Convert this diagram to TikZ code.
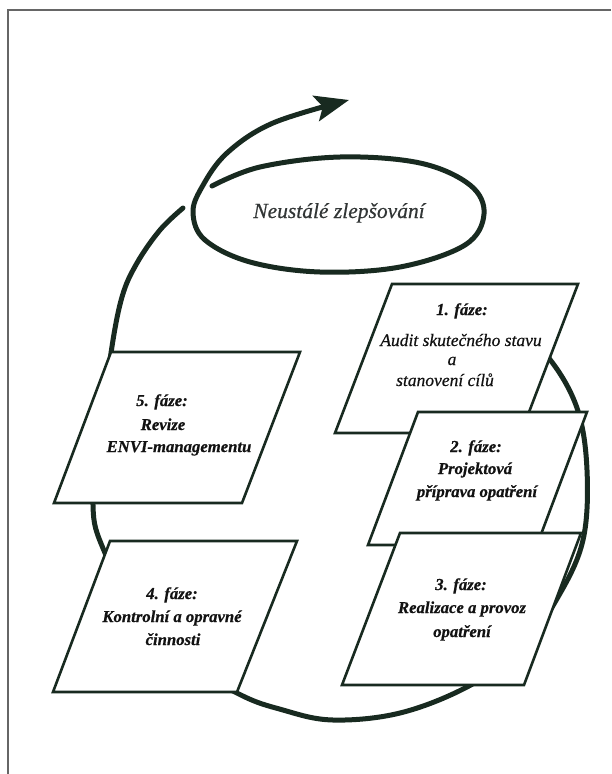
\documentclass[tikz,border=0pt]{standalone}
\usepackage{fontspec}
\setmainfont{Liberation Serif}[
  BoldFont={Liberation Serif Bold},
  ItalicFont={Liberation Serif Italic},
  BoldItalicFont={Liberation Serif Bold Italic}]
\newfontfamily\heavyit{Liberation Serif Bold Italic}[FakeBold=0.6]
\newfontfamily\medit{Liberation Serif Italic}[FakeBold=0.5]
\usetikzlibrary{arrows.meta}
\definecolor{ink}{RGB}{24,42,32}
\definecolor{txt}{RGB}{18,18,18}
\definecolor{ttl}{RGB}{50,54,54}
\begin{document}
\begin{tikzpicture}[x=1pt,y=-1pt,
  loopline/.style={draw=ink, line width=5pt, line cap=round, line join=round},
  phase/.style={draw=ink, fill=white, line width=2.6pt, line join=miter},
  lbl/.style={anchor=base, inner sep=0pt, text=txt, font=\heavyit\fontsize{16.7}{20}\selectfont},
  lblit/.style={anchor=base, inner sep=0pt, text=txt, font=\medit\fontsize{17.5}{21}\selectfont},
  titlelbl/.style={anchor=base, inner sep=0pt, text=ttl, font=\medit\fontsize{21.5}{25}\selectfont},
  framel/.style={draw=gray!80!black, line width=1.5pt}]
\useasboundingbox (0,0) rectangle (611,774);
% frame
\draw[framel] (8,774) -- (8,10) -- (611,10);
% big cycle
\draw[loopline] plot[smooth, tension=0.6] coordinates {
  (505,318) (548,357) (577,408) (587,470) (583,540) (558,597) (520,650)
  (467,687) (400,713) (333,720) (283,710) (235,692) (150,640) (105,553)
  (93,505) (102,430) (111,353) (122,297) (137,263) (160,230) (183,208)};
% spiral with arrow
\draw[loopline, -{Stealth[length=34pt,width=26pt,inset=7pt]}] plot[smooth, tension=0.6] coordinates {
  (212,186) (260,167) (340,157) (420,163) (470,185) (484,214) (465,245)
  (400,267) (320,272) (250,262) (205,240) (193,213) (202,187) (227,153)
  (273,123) (349,100)};
% phase boxes
\draw[phase] (392,284) -- (578,284) -- (521,433) -- (335,433) -- cycle;
\draw[phase] (418,412) -- (587,412) -- (537,545) -- (368,545) -- cycle;
\draw[phase] (400,533) -- (581,533) -- (524,685) -- (342,685) -- cycle;
\draw[phase] (111,352) -- (300,352) -- (242,503) -- (54,503) -- cycle;
\draw[phase] (110,541) -- (297,541) -- (237,692) -- (53,692) -- cycle;
% texts
\node[titlelbl] (title) at (339,218) {Neustálé zlepšování};
\node[lbl] (p1h) at (462,315) {1. fáze:};
\node[lblit] (p1a) at (461,346) {Audit skutečného stavu};
\node[lblit] (p1b) at (452,365) {a};
\node[lblit] (p1c) at (445,386) {stanovení cílů};
\node[lbl] (p2h) at (476,452) {2. fáze:};
\node[lbl] (p2a) at (475,474) {Projektová};
\node[lbl] (p2b) at (477,497) {příprava opatření};
\node[lbl] (p3h) at (461,590) {3. fáze:};
\node[lbl] (p3a) at (462,613) {Realizace a provoz};
\node[lbl] (p3b) at (462,637) {opatření};
\node[lbl] (p5h) at (162,406) {5. fáze:};
\node[lbl] (p5a) at (163,430) {Revize};
\node[lbl] (p5b) at (179,452) {ENVI-managementu};
\node[lbl] (p4h) at (172,599) {4. fáze:};
\node[lbl] (p4a) at (172,622) {Kontrolní a opravné};
\node[lbl] (p4b) at (173,645) {činnosti};
\end{tikzpicture}
\end{document}
